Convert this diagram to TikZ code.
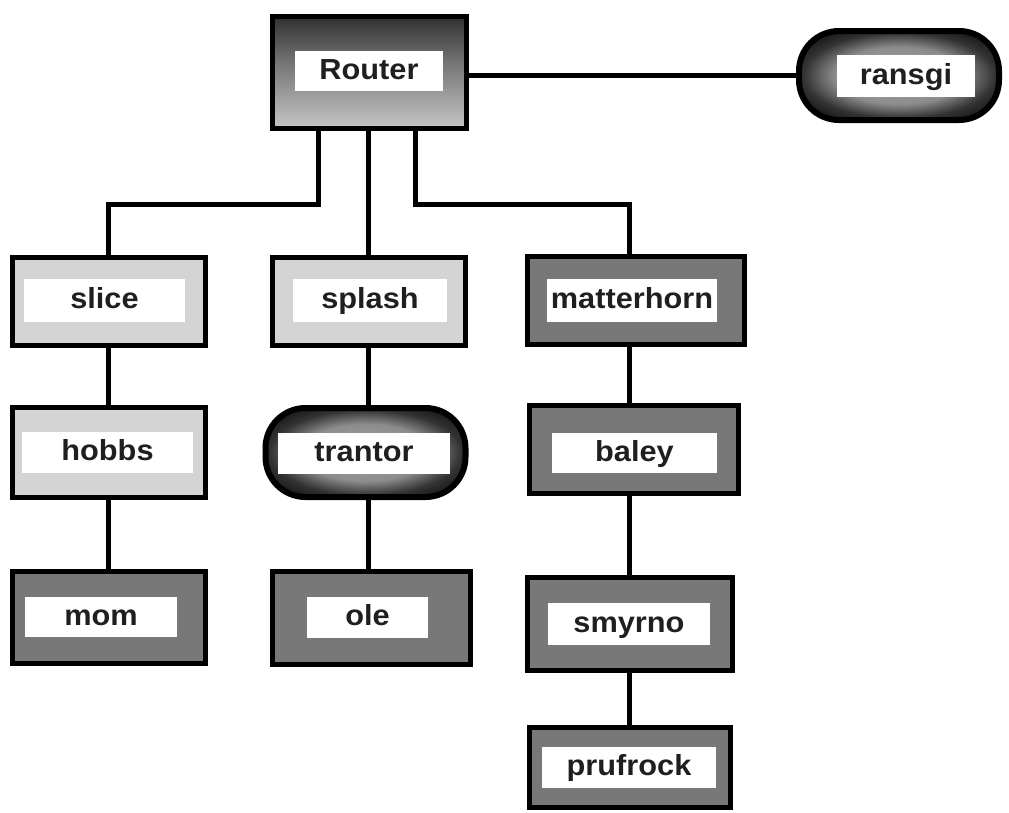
\documentclass[tikz,border=0pt]{standalone}
\usepackage{fontspec}
\newfontfamily\lblfont[FakeStretch=1.06]{Liberation Sans}

% dark top fading to a light bottom (router box)
\pgfdeclareverticalshading{routerfade}{100bp}{%
  color(0bp)=(black!8); color(25bp)=(black!22); color(55bp)=(black!55);
  color(78bp)=(black!85); color(86bp)=(black); color(100bp)=(black)}
% dark rim with a lighter core (gateway pills)
\pgfdeclareradialshading{pillfade}{\pgfpoint{0bp}{0bp}}{%
  color(0bp)=(black!35); color(16bp)=(black!45); color(24bp)=(black!80);
  color(32bp)=(black!95); color(50bp)=(black)}

\tikzset{
  link/.style={line width=5pt, line cap=rect},
  box/.style={draw, line width=5pt, inner sep=0pt},
  lightbox/.style={box, fill=black!17},
  midbox/.style={box, fill=black!53},
  routerbox/.style={box, shading=routerfade},
  pill/.style={draw, line width=6pt, rounded corners=40pt, shading=pillfade, inner sep=0pt},
  tag/.style={fill=white, inner sep=0pt, text=black!88, text height=16pt, text depth=0pt,
    font=\lblfont\bfseries\fontsize{29}{32}\selectfont},
}

\begin{document}
\begin{tikzpicture}[x=1pt, y=-1pt]
\useasboundingbox (0,0) rectangle (1009,812);

% outer boxes
\node[routerbox, minimum width=194pt, minimum height=112pt] (router) at (369.5,72.5) {};
\node[pill, minimum width=200pt, minimum height=89pt] (ransgi) at (899,75.5) {};
\node[lightbox, minimum width=193pt, minimum height=88pt] (slice) at (109,301.5) {};
\node[lightbox, minimum width=193pt, minimum height=88pt] (splash) at (369,301.5) {};
\node[midbox, minimum width=217pt, minimum height=88pt] (matterhorn) at (636,300.5) {};
\node[lightbox, minimum width=193pt, minimum height=90pt] (hobbs) at (109,452.5) {};
\node[pill, minimum width=200pt, minimum height=89pt] (trantor) at (365.5,452.5) {};
\node[midbox, minimum width=209pt, minimum height=88pt] (baley) at (634,449.5) {};
\node[midbox, minimum width=193pt, minimum height=92pt] (mom) at (109,617.5) {};
\node[midbox, minimum width=198pt, minimum height=93pt] (ole) at (371.5,618) {};
\node[midbox, minimum width=205pt, minimum height=93pt] (smyrno) at (630,624) {};
\node[midbox, minimum width=201pt, minimum height=80pt] (prufrock) at (630,767.5) {};

% white name plates
\node[tag, minimum width=148pt, minimum height=40pt] (router-l) at (369,71) {Router};
\node[tag, minimum width=138pt, minimum height=42pt] (ransgi-l) at (906,76) {ransgi};
\node[tag, minimum width=161pt, minimum height=43pt] (slice-l) at (104.5,300.5) {slice};
\node[tag, minimum width=154pt, minimum height=43pt] (splash-l) at (370,300.5) {splash};
\node[tag, minimum width=170pt, minimum height=43pt] (matterhorn-l) at (632,300.5) {matterhorn};
\node[tag, minimum width=171pt, minimum height=41pt] (hobbs-l) at (107.5,452.5) {hobbs};
\node[tag, minimum width=172pt, minimum height=41pt] (trantor-l) at (364,453.5) {trantor};
\node[tag, minimum width=165pt, minimum height=40pt] (baley-l) at (634.5,453) {baley};
\node[tag, minimum width=152pt, minimum height=40pt] (mom-l) at (101,617) {mom};
\node[tag, minimum width=121pt, minimum height=41pt] (ole-l) at (367.5,617.5) {ole};
\node[tag, minimum width=162pt, minimum height=42pt] (smyrno-l) at (629,624) {smyrno};
\node[tag, minimum width=174pt, minimum height=41pt] (prufrock-l) at (629,767.5) {prufrock};

% column and branch points of the wiring
\coordinate (colA) at (108,0);
\coordinate (colB) at (368,0);
\coordinate (colC) at (629,0);
\coordinate (forkL) at (318,204);
\coordinate (forkR) at (415,204);

% router uplink
\draw[link] (ransgi.west) -- (ransgi.west -| router.east);

% router down to the three subnets
\draw[link] (forkL |- router.south) -- (forkL) -- (forkL -| colA) -- (colA |- slice.north);
\draw[link] (colB |- router.south) -- (colB |- splash.north);
\draw[link] (forkR |- router.south) -- (forkR) -- (forkR -| colC) -- (colC |- matterhorn.north);

% subnet chains
\draw[link] (colA |- slice.south) -- (colA |- hobbs.north);
\draw[link] (colA |- hobbs.south) -- (colA |- mom.north);
\draw[link] (colB |- splash.south) -- (colB |- trantor.north);
\draw[link] (colB |- trantor.south) -- (colB |- ole.north);
\draw[link] (colC |- matterhorn.south) -- (colC |- baley.north);
\draw[link] (colC |- baley.south) -- (colC |- smyrno.north);
\draw[link] (colC |- smyrno.south) -- (colC |- prufrock.north);
\end{tikzpicture}
\end{document}
